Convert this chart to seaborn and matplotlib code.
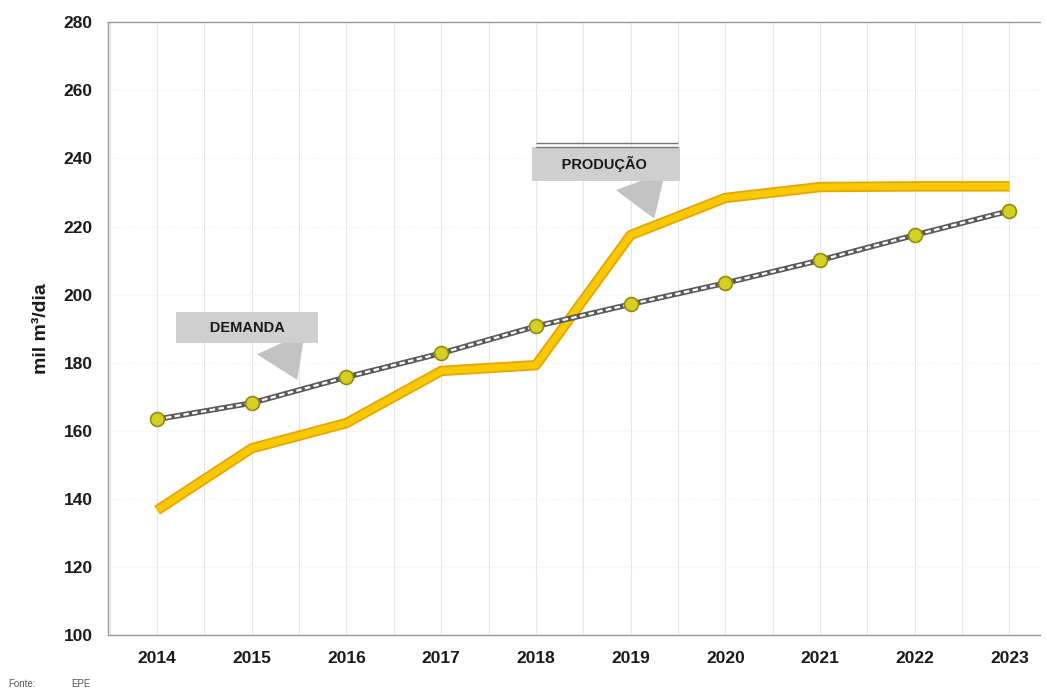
import numpy as np
import pandas as pd
import matplotlib
matplotlib.use("Agg")
import matplotlib.pyplot as plt
from matplotlib.ticker import MultipleLocator
import seaborn as sns

# dados (mil m3/dia)
anos = [2014, 2015, 2016, 2017, 2018, 2019, 2020, 2021, 2022, 2023]
demanda = [163.4, 168.2, 175.8, 182.8, 190.7, 197.2, 203.4, 210.1, 217.5, 224.6]
producao = [136.7, 154.9, 162.3, 177.6, 179.3, 217.5, 228.4, 231.6, 231.8, 231.8]

df = pd.DataFrame({"ano": anos, "demanda": demanda, "producao": producao})

sns.set_theme(style="white")
plt.rcParams["font.family"] = ["Liberation Sans", "DejaVu Sans"]

fig = plt.figure(figsize=(10.47, 6.95), dpi=100)
ax = fig.add_axes([0.103, 0.086, 0.890, 0.882])

# producao: linha amarela grossa com leve borda laranja
sns.lineplot(data=df, x="ano", y="producao", ax=ax, color="#e6a400",
             linewidth=7.5, zorder=3, solid_capstyle="butt")
sns.lineplot(data=df, x="ano", y="producao", ax=ax, color="#f8c800",
             linewidth=5, zorder=4, solid_capstyle="butt")

# demanda: linha "corda" cinza com marcadores
sns.lineplot(data=df, x="ano", y="demanda", ax=ax, color="#5a5a5a",
             linewidth=4, zorder=5)
sns.lineplot(data=df, x="ano", y="demanda", ax=ax, color="white",
             linewidth=1.6, zorder=6, linestyle=(0, (2.5, 1.5)))
sns.scatterplot(data=df, x="ano", y="demanda", ax=ax, s=100, color="#d4cf22",
                edgecolor="#8f8a10", linewidth=1.2, zorder=7)

ax.set_xlim(2013.48, 2023.32)
ax.set_ylim(100, 280)
ax.set_xticks(anos)
ax.set_yticks(np.arange(100, 281, 20))
ax.xaxis.set_minor_locator(MultipleLocator(0.5))
ax.grid(True, which="both", axis="x", color="#e6e6e6", linewidth=0.8)
ax.grid(True, which="major", axis="y", color="#ededed", linewidth=0.8,
        linestyle=(0, (1, 2)))

for lab in ax.get_xticklabels() + ax.get_yticklabels():
    lab.set_fontweight("bold")
    lab.set_fontsize(12.5)
    lab.set_color("#1a1a1a")
ax.tick_params(axis="both", which="major", length=5, color="#888888",
               direction="out", pad=6)
ax.tick_params(axis="x", which="minor", length=0)

ax.set_xlabel("")
ax.set_ylabel("mil m³/dia", fontsize=14, fontweight="bold", color="#1a1a1a",
              labelpad=10)

for s in ["left", "bottom", "top"]:
    ax.spines[s].set_color("#999999")
    ax.spines[s].set_linewidth(1)
ax.spines["right"].set_visible(False)

# caixas de rotulo com "balao"
caixa = dict(boxstyle="square,pad=0.6", fc="#cfcfcf", ec="none")
seta = dict(arrowstyle="wedge,tail_width=3.6,shrink_factor=0.5",
            fc="#c2c2c2", ec="none", relpos=(0.74, 0.0), shrinkA=0, shrinkB=0)
ax.annotate("      DEMANDA      ", xy=(2015.48, 175.0), xytext=(2014.95, 190.3),
            ha="center", va="center", fontsize=10.5, fontweight="bold",
            color="#1a1a1a", bbox=caixa, zorder=8, arrowprops=seta)
ax.annotate("     PRODUÇÃO      ", xy=(2019.25, 222.3), xytext=(2018.74, 238.3),
            ha="center", va="center", fontsize=10.5, fontweight="bold",
            color="#1a1a1a", bbox=caixa, zorder=8, arrowprops=seta)
# filete duplo acima da caixa PRODUCAO
ax.hlines([244.6, 243.4], 2018.0, 2019.5, color="#777777", linewidth=1, zorder=8)

fig.text(0.008, 0.012, "Fonte:", fontsize=7, color="#555555")
fig.text(0.068, 0.012, "EPE", fontsize=7, color="#555555")

fig.savefig("out.png", dpi=100, facecolor="white")
